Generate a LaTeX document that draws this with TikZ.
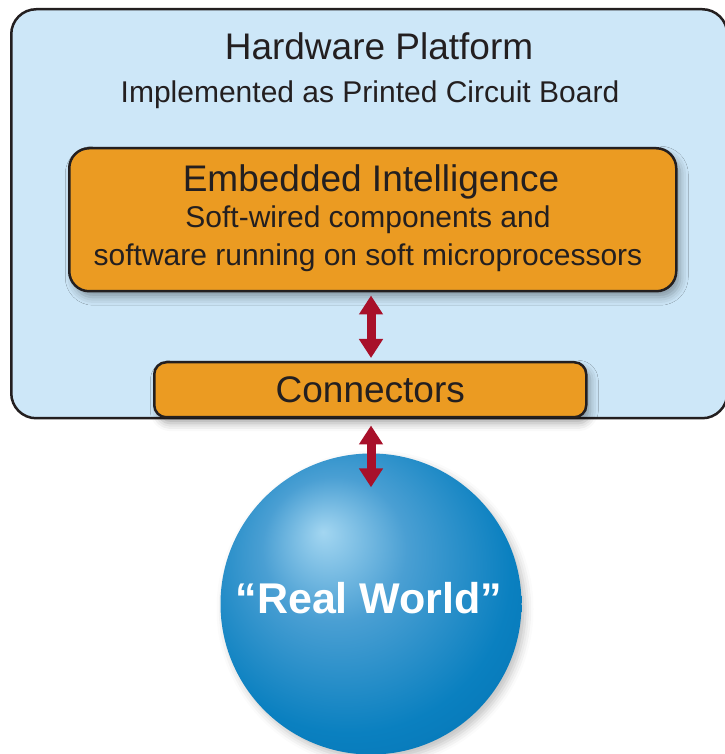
\documentclass[tikz,border=0pt]{standalone}
\usepackage{fontspec}
\setmainfont{Liberation Sans}
\usepackage{tikz}
\usetikzlibrary{arrows.meta, positioning, calc, shadows.blur}

\definecolor{boardblue}{HTML}{CDE7F8}
\definecolor{chiporange}{HTML}{EB9B22}
\definecolor{inkdark}{HTML}{231F20}
\definecolor{linkred}{HTML}{A8102A}
\definecolor{worldhi}{HTML}{A3D6F1}
\definecolor{worldmid}{HTML}{4A9FD3}
\definecolor{worldblue}{HTML}{0A80C0}
\definecolor{worlddark}{HTML}{006AAB}

\pgfdeclareradialshading{worldshade}{\pgfpoint{-8bp}{12bp}}{%
  color(0bp)=(worldhi); color(12bp)=(worldmid); color(27bp)=(worldblue);
  color(45bp)=(worlddark); color(50bp)=(worlddark)}

\begin{document}
\begin{tikzpicture}[
    x=1pt, y=1pt,
    board/.style={rectangle, rounded corners=25pt, draw=inkdark, line width=2.5pt, fill=boardblue, anchor=north west},
    chip/.style={rectangle, draw=inkdark, line width=2.5pt, fill=chiporange, text=inkdark, align=center, anchor=north west,
      blur shadow={shadow xshift=4pt, shadow yshift=-6pt, shadow blur radius=8pt, shadow opacity=35}},
    title/.style={font=\fontsize{37}{44}\selectfont, text=inkdark},
    sub/.style={font=\fontsize{30}{38}\selectfont, text=inkdark},
    link/.style={{Triangle[width=23pt,length=19pt]}-{Triangle[width=23pt,length=19pt]}, line width=9pt, linkred},
  ]
    \useasboundingbox (0,0) rectangle (724,754);
    % board
    \node[board, minimum width=716pt, minimum height=409pt] (platform) at (10,746) {};
    \node[title, anchor=base] (platformtitle) at (379,694) {Hardware Platform};
    \node[sub, anchor=base] (platformsub) at (370,651) {Implemented as Printed Circuit Board};
    % embedded intelligence
    \node[chip, rounded corners=20pt, minimum width=607pt, minimum height=143pt] (embedded) at (68,607) {};
    \node[title, anchor=base] (embeddedtitle) at (371,562) {Embedded Intelligence};
    \node[sub, anchor=base] (embeddedsub) at (368,526) {Soft-wired components and};
    \node[sub, anchor=base] (embeddedsub2) at (368,488) {software running on soft microprocessors};
    % connectors
    \node[chip, rounded corners=12pt, minimum width=432pt, minimum height=55pt, font=\fontsize{37}{44}\selectfont] (conn) at (153,393) {Connectors};
    % real world
    \node[circle, minimum size=301pt, inner sep=0pt, shading=worldshade,
      blur shadow={shadow xshift=4pt, shadow yshift=-5pt, shadow blur radius=8pt, shadow opacity=25}] (world) at (371,150) {};
    \node[text=white, font=\bfseries\fontsize{43}{50}\selectfont, anchor=base] (worldlabel) at (369,140) {“Real World”};
    % links
    \draw[link, shorten <=3pt, shorten >=3pt] (embedded.south -| world.north) -- (conn.north -| world.north);
    \draw[link, shorten <=7pt, shorten >=-34pt] (conn.south -| world.north) -- (world.north);
\end{tikzpicture}
\end{document}
